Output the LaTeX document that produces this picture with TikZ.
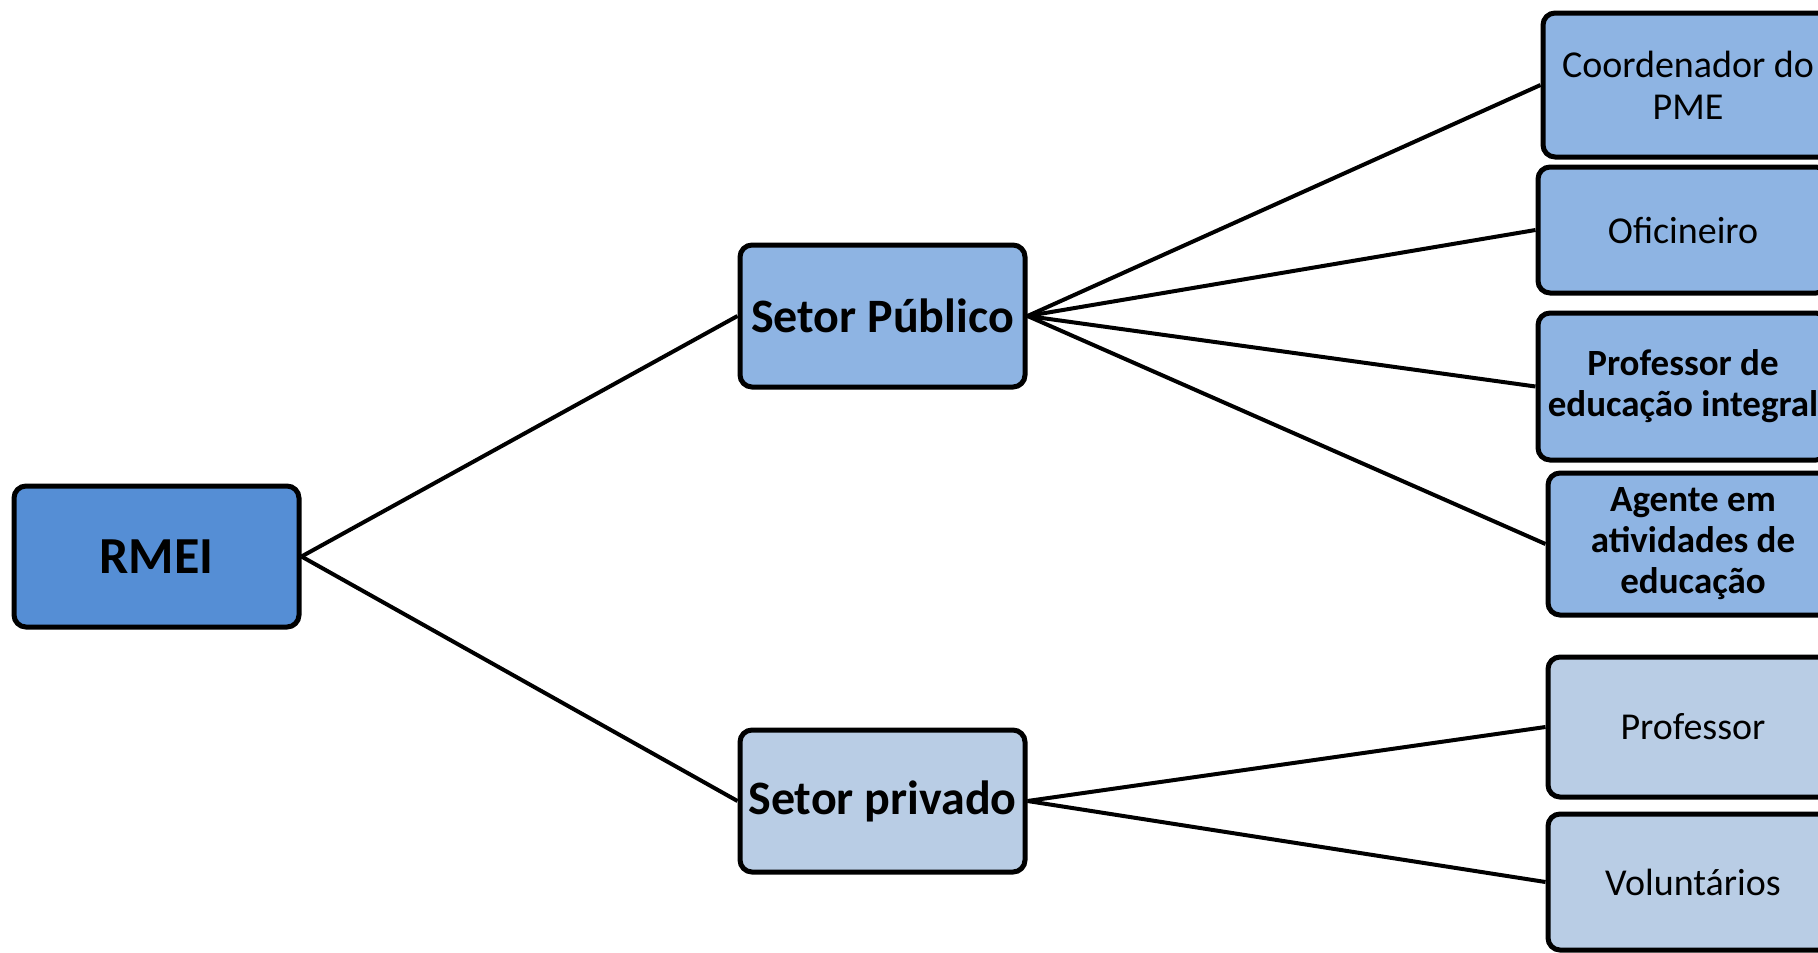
\documentclass[tikz,border=0pt]{standalone}
\usepackage{fontspec}
\setmainfont{Carlito}
\definecolor{cDark}{HTML}{558ED5}
\definecolor{cMid}{HTML}{8EB4E3}
\definecolor{cLight}{HTML}{B9CDE5}
\begin{document}
\begin{tikzpicture}[x=1pt,y=-1pt,
  box/.style={draw=black, line width=5pt, rounded corners=12pt, rectangle,
    align=center, inner sep=0pt, minimum width=#1},
  box/.default=285pt,
  big/.style={font=\fontsize{48}{56}\selectfont\bfseries},
  small/.style={font=\fontsize{38}{42}\selectfont},
  smallb/.style={font=\fontsize{37}{41}\selectfont\bfseries},
  link/.style={draw=black, line width=4pt}]
\useasboundingbox (0,0) rectangle (1818,953);
\node[box, fill=cDark, font=\fontsize{52}{60}\selectfont\bfseries, minimum height=141pt] (rmei) at (156.5,556.5) {RMEI};
\node[box, fill=cMid, big, minimum height=142pt] (pub) at (882.5,316) {Setor Público};
\node[box, fill=cLight, big, minimum height=142pt] (priv) at (882.5,801) {Setor privado};
\node[box=290pt, fill=cMid, small, minimum height=144pt] (coord) at (1688,85) {Coordenador do\\PME};
\node[box=290pt, fill=cMid, small, minimum height=126pt] (ofic) at (1683,230) {Oficineiro};
\node[box=290pt, fill=cMid, smallb, minimum height=147pt] (profint) at (1683,386.5) {Professor de\\educação integral};
\node[box=290pt, fill=cMid, smallb, minimum height=142pt] (agente) at (1693,544) {Agente em\\atividades de\\educação};
\node[box=290pt, fill=cLight, small, minimum height=140pt] (prof) at (1693,727) {Professor};
\node[box=290pt, fill=cLight, small, minimum height=136pt] (vol) at (1693,882) {Voluntários};
\draw[link] (rmei.east) -- (pub.west);
\draw[link] (rmei.east) -- (priv.west);
\draw[link] (pub.east) -- (coord.west);
\draw[link] (pub.east) -- (ofic.west);
\draw[link] (pub.east) -- (profint.west);
\draw[link] (pub.east) -- (agente.west);
\draw[link] (priv.east) -- (prof.west);
\draw[link] (priv.east) -- (vol.west);
\end{tikzpicture}
\end{document}
